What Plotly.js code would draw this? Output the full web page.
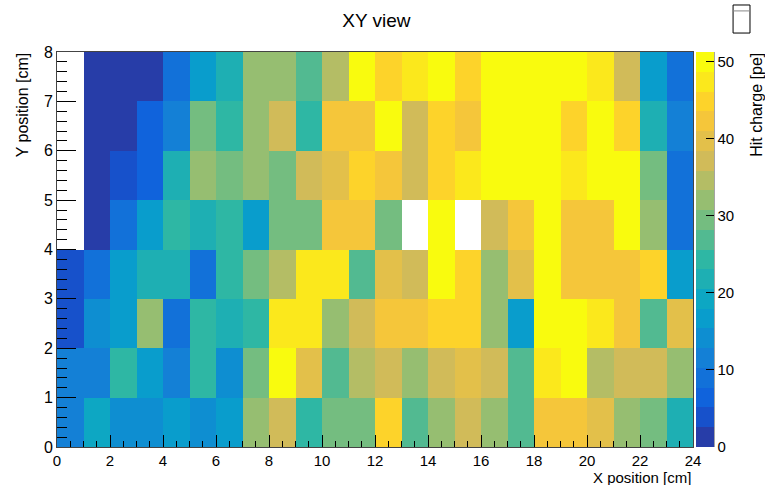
<!DOCTYPE html>
<html>
<head>
<meta charset="utf-8">
<script src="https://cdn.plot.ly/plotly-3.0.1.min.js"></script>
<style>html,body{margin:0;padding:0;background:#fff;}#plot{width:765px;height:485px;}</style>
</head>
<body>
<div id="plot"></div>
<script>
// Hit charge per 1x1 cm cell; rows from Y = 0-1 (bottom) to Y = 7-8 (top); null = empty bin
const xEdgesStart = 0;          // first X bin lower edge [cm]
const yEdgesStart = 0;          // first Y bin lower edge [cm]
const binWidth = 1;             // cm
const row_y0 = [11, 19, 15, 14, 16.6, 15, 16.6, 32, 37, 24.3, 29.5, 29.5, 44.8, 27, 31, 36, 32, 27, 42, 42, 39.5, 32, 30, 21];
const row_y1 = [10.5, 11.5, 24.3, 16.6, 11, 24.3, 14, 30, 50, 39.5, 27, 34, 37, 32, 37, 39.5, 38, 27, 47.4, 50, 34, 37, 37, 32];
const row_y2 = [4, 14, 16.6, 33, 8.5, 24.3, 21.8, 24.3, 47.4, 47.4, 32, 37, 42, 42, 44, 44, 32, 16.6, 50, 50, 47.4, 42, 27, 39.5];
const row_y3 = [4, 8.5, 16.6, 21.8, 21.8, 8.5, 24.3, 29.5, 34, 47.4, 47.4, 27, 39.5, 37, 50, 44, 32, 38.5, 50, 43, 42, 42, 44.8, 16.6];
const row_y4 = [null, 1, 8, 16.6, 24.3, 21.8, 24.3, 16.6, 29.5, 29.5, 42, 42, 30.5, null, 50, null, 37, 43, 50, 42, 42, 50, 32, 8.5];
const row_y5 = [null, 1, 4, 7, 21.8, 33, 29.5, 32, 29.5, 37, 39.5, 44.8, 41, 37, 44, 47.4, 50, 50, 50, 47.4, 50, 50, 29, 8.5];
const row_y6 = [null, 1, 1, 7, 11.5, 29.5, 24.3, 31, 37, 24.3, 42, 42, 50, 37, 46, 41, 50, 50, 50, 44, 50, 44, 21.8, 11.5];
const row_y7 = [null, 1, 1, 1, 8, 16.6, 21.8, 32, 32, 27, 34.5, 50, 44.8, 47.4, 50, 44.8, 50, 50, 50, 50, 47.4, 38, 16.6, 8];

const xTickVals = [0, 2, 4, 6, 8, 10, 12, 14, 16, 18, 20, 22, 24];
const yTickVals = [0, 1, 2, 3, 4, 5, 6, 7, 8];
const zTickVals = [0, 10, 20, 30, 40, 50];
const zMin = 0, zMax = 51.2, nLevels = 20;

const zRows = [row_y0, row_y1, row_y2, row_y3, row_y4, row_y5, row_y6, row_y7];

// ROOT kBird palette, discretised into 20 contour levels
const stops = [0, 0.125, 0.25, 0.375, 0.5, 0.625, 0.75, 0.875, 1];
const R = [0.2082, 0.0592, 0.0780, 0.0232, 0.1802, 0.5301, 0.8186, 0.9956, 0.9764];
const G = [0.1664, 0.3599, 0.5041, 0.6419, 0.7178, 0.7492, 0.7328, 0.7862, 0.9832];
const B = [0.5293, 0.8684, 0.8385, 0.7914, 0.6425, 0.4662, 0.3499, 0.1968, 0.0539];
function bird(f) {
  let i = 0;
  while (i < stops.length - 2 && f > stops[i + 1]) i++;
  const t = (f - stops[i]) / (stops[i + 1] - stops[i]);
  const c = (a) => Math.round(255 * (a[i] + (a[i + 1] - a[i]) * t));
  return 'rgb(' + c(R) + ',' + c(G) + ',' + c(B) + ')';
}
const colorscale = [];
for (let i = 0; i < nLevels; i++) {
  const idx = Math.floor((i + 0.99) * 255 / nLevels);
  const col = bird(idx / 254);
  colorscale.push([i / nLevels, col]);
  colorscale.push([(i + 1) / nLevels, col]);
}

const FONT = 'Liberation Sans, Arial, Helvetica, sans-serif';

const trace = {
  type: 'heatmap',
  z: zRows,
  x0: xEdgesStart + binWidth / 2, dx: binWidth,
  y0: yEdgesStart + binWidth / 2, dy: binWidth,
  zmin: zMin, zmax: zMax,
  colorscale: colorscale,
  hoverongaps: false,
  showscale: true,
  colorbar: {
    x: 1.0047, xanchor: 'left', xpad: 0,
    y: 0, yanchor: 'bottom', ypad: 0,
    len: 1, lenmode: 'fraction',
    thickness: 18, thicknessmode: 'pixels',
    outlinewidth: 0,
    ticks: 'inside', ticklen: 8, tickcolor: '#000', tickwidth: 1,
    tickvals: zTickVals,
    tickfont: {family: FONT, size: 15, color: '#000'}
  }
};

const layout = {
  width: 765, height: 485,
  margin: {l: 57, r: 72, t: 52, b: 38, pad: 0},
  paper_bgcolor: '#fff', plot_bgcolor: '#fff',
  font: {family: FONT, color: '#000'},
  title: {text: 'XY view', font: {family: FONT, size: 19, color: '#000'},
          xref: 'container', x: 0.492, xanchor: 'center', yref: 'container', y: 0.958, yanchor: 'middle'},
  xaxis: {
    range: [0, 24], tickvals: xTickVals,
    ticks: 'inside', ticklen: 12, tickcolor: '#000', tickwidth: 1,
    minor: {dtick: 0.5, tick0: 0, ticks: 'inside', ticklen: 6, tickcolor: '#000', showgrid: false},
    showline: true, mirror: true, linecolor: '#444', linewidth: 1,
    showgrid: false, zeroline: false,
    tickfont: {family: FONT, size: 15, color: '#000'}
  },
  yaxis: {
    range: [0, 8], tickvals: yTickVals,
    ticks: 'inside', ticklen: 19, tickcolor: '#000', tickwidth: 1,
    minor: {dtick: 0.2, tick0: 0, ticks: 'inside', ticklen: 10, tickcolor: '#000', showgrid: false},
    showline: true, mirror: true, linecolor: '#444', linewidth: 1,
    showgrid: false, zeroline: false,
    tickfont: {family: FONT, size: 16, color: '#000'}
  },
  annotations: [
    {text: 'X position [cm]', xref: 'paper', yref: 'paper', x: 1, y: -0.077,
     xanchor: 'right', yanchor: 'middle', showarrow: false, font: {family: FONT, size: 15, color: '#000'}},
    {text: 'Y position [cm]', xref: 'paper', yref: 'paper', x: -0.055, y: 1.003,
     xanchor: 'center', yanchor: 'top', textangle: -90, showarrow: false, font: {family: FONT, size: 16, color: '#000'}},
    {text: 'Hit charge [pe]', xref: 'paper', yref: 'paper', x: 1.1006, y: 1.003,
     xanchor: 'center', yanchor: 'top', textangle: -90, showarrow: false, font: {family: FONT, size: 16, color: '#000'}}
  ],
  shapes: [
    {type: 'line', xref: 'paper', yref: 'paper', x0: 1.0330, x1: 1.0330, y0: 0, y1: 1, line: {color: '#444', width: 1}},
    {type: 'rect', xref: 'paper', yref: 'paper', x0: 1.063, x1: 1.0896, y0: 1.048, y1: 1.119, line: {color: '#000', width: 1}, fillcolor: '#fff'},
    {type: 'line', xref: 'paper', yref: 'paper', x0: 1.063, x1: 1.0896, y0: 1.104, y1: 1.104, line: {color: '#888', width: 1}}
  ]
};

Plotly.newPlot('plot', [trace], layout, {displayModeBar: false, staticPlot: true});
</script>
</body>
</html>
